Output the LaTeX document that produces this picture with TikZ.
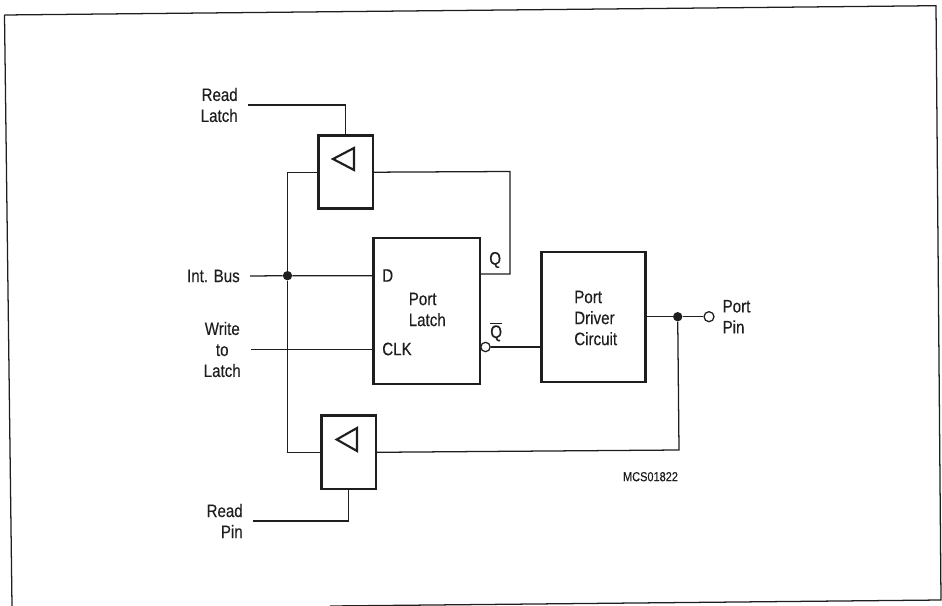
\documentclass[tikz,border=0pt]{standalone}
\usepackage{fontspec}
\setmainfont[FakeStretch=0.84,FakeBold=0.25]{Liberation Sans}
\definecolor{inkblack}{RGB}{30,30,30}
\tikzset{
  wire/.style={color=inkblack,line width=0.95pt},
  blockbox/.style={draw=inkblack,line width=2pt,rectangle,inner sep=0pt,fill=white},
  blocktext/.style={inner sep=0pt,align=left,font=\fontsize{13.5}{15.75}\selectfont,text=inkblack},
  sigleft/.style={inner sep=7.5pt,anchor=east,font=\fontsize{13.5}{15.75}\selectfont,text=inkblack},
  sigright/.style={inner sep=5.8pt,anchor=west,align=left,font=\fontsize{13.5}{15.75}\selectfont,text=inkblack},
  joindot/.style={circle,fill=inkblack,inner sep=0pt,minimum size=7pt},
  opendot/.style={circle,draw=inkblack,fill=white,line width=0.95pt,inner sep=0pt,minimum size=#1},
}
\begin{document}
\begin{tikzpicture}[x=0.75pt,y=0.75pt,yscale=-1,xscale=1]
\useasboundingbox (0,0) rectangle (942,606);

%Page frame
\draw [wire] (4.5,15) -- (936,5.7) -- (941,600) -- (330,606) ;
\draw [wire] (4.5,15) -- (12,606) ;

%Blocks
\node [blockbox,minimum width=41pt,minimum height=54.75pt] (BufLatch) at (345.5,172.2) {};
\node [blockbox,minimum width=41pt,minimum height=55pt] (BufPin) at (348.5,452.3) {};
\node [blockbox,minimum width=80pt,minimum height=109.5pt] (PortLatch) at (426.5,311) {};
\node [blockbox,minimum width=78pt,minimum height=97.5pt] (PortDriver) at (593.7,317) {};

%Buffer triangles
\draw [color=inkblack,line width=1.6pt,line join=miter] (333,159) -- (354,148) -- (354,170) -- cycle ;
\draw [color=inkblack,line width=1.6pt,line join=miter] (336.7,439.5) -- (357,428) -- (357,451) -- cycle ;

%Signal names
\node [sigleft,align=right] (ReadLatch) at (248,105) {Read\\Latch};
\node [sigleft] (IntBus) at (250,276) {Int. Bus};
\node [sigleft,align=center] (WriteLatch) at (251,349.5) {Write\\to\\Latch};
\node [sigleft,align=right] (ReadPin) at (253,521) {Read\\Pin};

%Junctions
\node [joindot] (BusDot) at (287.5,275.7) {};
\node [joindot] (PinDot) at (677.7,316.7) {};
\node [opendot=7pt] (QnDot) at (485.5,347) {};
\node [opendot=7.5pt] (PinEnd) at (709,316.7) {};
\node [sigright] (PortPin) at (PinEnd.east) {Port\\Pin};

%Block texts
\node [blocktext,anchor=west] (LblD) at (382,275.5) {D};
\node [blocktext,anchor=west] (LblClk) at (382,349) {CLK};
\node [blocktext,anchor=west] (LblQ) at (489,260) {Q};
\node [blocktext,anchor=west] (LblQn) at (490,332) {$\overline{\mbox{Q}}$};
\node [blocktext,anchor=west] (LblLatch) at (408.5,309.5) {Port\\Latch};
\node [blocktext,anchor=west] (LblDriver) at (574,318) {Port\\Driver\\Circuit};
\node [blocktext,anchor=center,font=\fontsize{9.8}{12}\selectfont] (LblCode) at (650.5,476.7) {MCS01822};

%Wire corners
\coordinate (QTurnTop) at (510,171.5);
\coordinate (QTurnLow) at (510,274);
\coordinate (PinTurn) at (679,450);

%Straight Lines
\draw [wire] (ReadLatch.east) -| (BufLatch.north) ;
\draw [wire] (IntBus.east) -- (BusDot) -- (BusDot -| PortLatch.west) ;
\draw [wire] (BusDot) |- (BufLatch.west) ;
\draw [wire] (BusDot) |- (BufPin.west) ;
\draw [wire] (WriteLatch.east) -- (WriteLatch.east -| PortLatch.west) ;
\draw [wire] (ReadPin.east) -| (BufPin.south) ;
\draw [wire] (BufLatch.east) -- (QTurnTop) -- (QTurnLow) -- (QTurnLow -| PortLatch.east) ;
\draw [wire] (QnDot) -- (QnDot -| PortDriver.west) ;
\draw [wire] (PortDriver.east |- PinDot) -- (PinDot) -- (PinEnd) ;
\draw [wire] (PinDot) -- (PinTurn) -- (BufPin.east) ;
\end{tikzpicture}
\end{document}
